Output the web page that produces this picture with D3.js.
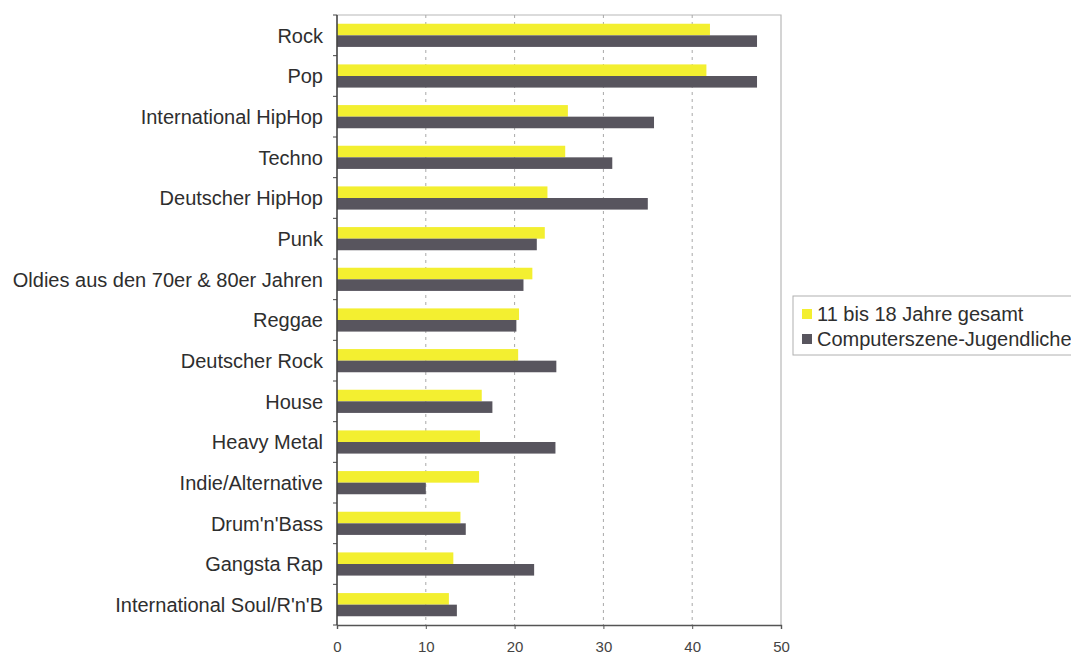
<!DOCTYPE html>
<html>
<head>
<meta charset="utf-8">
<script src="https://cdn.jsdelivr.net/npm/d3@7"></script>
<style>
    body { margin: 0; background: #fff; }
    svg { display: block; font-family: "Liberation Sans", Arial, sans-serif; }
</style>
</head>
<body>
<svg id="chart" width="1071" height="655"></svg>
<script>
"use strict";

// categories, top to bottom
const genres = [
    "Rock", "Pop", "International HipHop", "Techno", "Deutscher HipHop",
    "Punk", "Oldies aus den 70er & 80er Jahren", "Reggae", "Deutscher Rock",
    "House", "Heavy Metal", "Indie/Alternative", "Drum'n'Bass",
    "Gangsta Rap", "International Soul/R'n'B"
];

const seriesNames = ["11 bis 18 Jahre gesamt", "Computerszene-Jugendliche"];

// 11 bis 18 Jahre gesamt
const allYouth = [42.0, 41.6, 26.0, 25.7, 23.7, 23.4, 22.0, 20.5, 20.4, 16.3, 16.1, 16.0, 13.9, 13.1, 12.6];
// Computerszene-Jugendliche
const computerScene = [47.3, 47.3, 35.7, 31.0, 35.0, 22.5, 21.0, 20.2, 24.7, 17.5, 24.6, 10.0, 14.5, 22.2, 13.5];

const xTicks = [0, 10, 20, 30, 40, 50];

const colors = ["#f3ef30", "#58555e"];

let svg = d3.select("#chart");

let plot = { left: 337, right: 781, top: 15, bottom: 625 };

let x = d3.scaleLinear()
    .domain([0, 50])
    .range([plot.left, plot.right]);

let y = d3.scaleBand()
    .domain(genres)
    .range([plot.top, plot.bottom])
    .paddingInner(0.43)
    .paddingOuter(0.215);

let ySub = d3.scaleBand()
    .domain([0, 1])
    .range([0, y.bandwidth()]);

// plot frame (top / right)
svg.append("path")
    .attr("d", `M${plot.left},${plot.top}H${plot.right}V${plot.bottom}`)
    .attr("fill", "none")
    .attr("stroke", "#b8b8b8")
    .attr("stroke-width", 1.2);

// dotted gridlines
svg.append("g")
    .selectAll("line")
    .data(xTicks.filter(d => d > 0 && d < 50))
    .enter().append("line")
    .attr("x1", d => x(d))
    .attr("x2", d => x(d))
    .attr("y1", plot.top)
    .attr("y2", plot.bottom)
    .attr("stroke", "#a8a8a8")
    .attr("stroke-width", 1)
    .attr("stroke-dasharray", "3,4");

// bars
let rows = genres.map((g, i) => ({ genre: g, values: [allYouth[i], computerScene[i]] }));

svg.append("g")
    .selectAll("g")
    .data(rows)
    .enter().append("g")
    .attr("transform", d => `translate(0,${y(d.genre)})`)
    .selectAll("rect")
    .data(d => d.values.map((v, k) => ({ k, v })))
    .enter().append("rect")
    .attr("x", x(0))
    .attr("y", d => ySub(d.k))
    .attr("width", d => x(d.v) - x(0))
    .attr("height", ySub.bandwidth())
    .attr("fill", d => colors[d.k]);

// x axis
let xAxis = d3.axisBottom(x)
    .tickValues(xTicks)
    .tickSize(4)
    .tickPadding(12)
    .tickFormat(d3.format("d"));

let gx = svg.append("g")
    .attr("transform", `translate(0,${plot.bottom})`)
    .call(xAxis);

gx.select(".domain").attr("stroke", "#555").attr("stroke-width", 1.4);
gx.selectAll(".tick line").attr("stroke", "#555");
gx.selectAll(".tick text")
    .attr("font-size", 15)
    .attr("fill", "#444")
    .attr("font-family", "Liberation Sans, Arial, sans-serif");

// y axis: line with small ticks between categories
svg.append("line")
    .attr("x1", plot.left).attr("x2", plot.left)
    .attr("y1", plot.top).attr("y2", plot.bottom)
    .attr("stroke", "#444")
    .attr("stroke-width", 1.6);

let step = y.step();
svg.append("g")
    .selectAll("line")
    .data(d3.range(genres.length + 1))
    .enter().append("line")
    .attr("x1", plot.left - 4)
    .attr("x2", plot.left)
    .attr("y1", i => plot.top + i * step)
    .attr("y2", i => plot.top + i * step)
    .attr("stroke", "#444");

svg.append("g")
    .selectAll("text")
    .data(genres)
    .enter().append("text")
    .attr("x", plot.left - 14)
    .attr("y", d => y(d) + y.bandwidth() / 2)
    .attr("dy", "0.36em")
    .attr("text-anchor", "end")
    .attr("font-size", 20)
    .attr("fill", "#2e2e2e")
    .text(d => d);

// legend
let legend = svg.append("g").attr("transform", "translate(793,296)");

legend.append("rect")
    .attr("x", 0).attr("y", 0)
    .attr("width", 300).attr("height", 59)
    .attr("fill", "#fff")
    .attr("stroke", "#b0b0b0");

let items = legend.selectAll(".item")
    .data(seriesNames)
    .enter().append("g")
    .attr("class", "item")
    .attr("transform", (d, i) => `translate(9,${18 + i * 25})`);

items.append("rect")
    .attr("x", 0).attr("y", -5)
    .attr("width", 10).attr("height", 10)
    .attr("fill", (d, i) => colors[i]);

items.append("text")
    .attr("x", 15)
    .attr("dy", "0.36em")
    .attr("font-size", 20)
    .attr("fill", "#2e2e2e")
    .text(d => d);
</script>
</body>
</html>
